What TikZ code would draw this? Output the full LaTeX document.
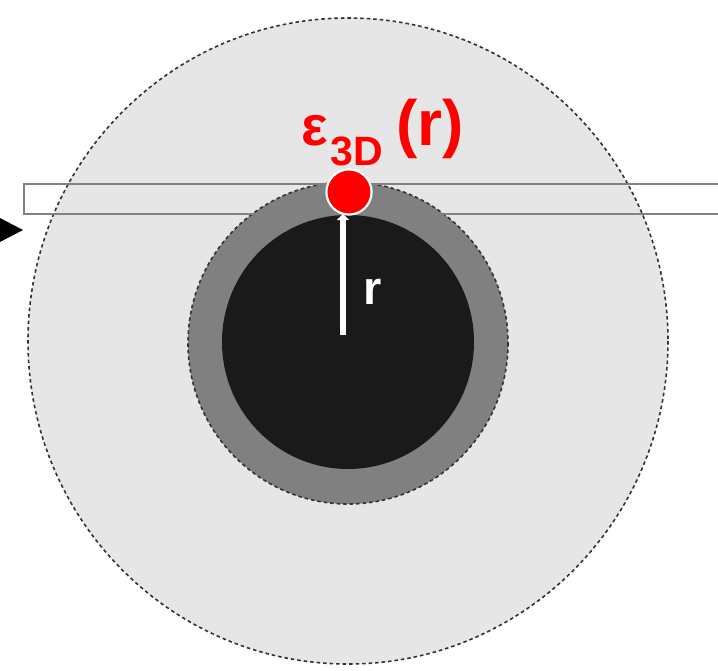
\documentclass[tikz,border=0pt]{standalone}
\usepackage{fontspec}
\setmainfont{Liberation Sans}
\usetikzlibrary{arrows.meta}
\definecolor{outergray}{RGB}{230,230,230}
\definecolor{ringgray}{RGB}{128,128,128}
\definecolor{coreblack}{RGB}{26,26,26}
\definecolor{edgegray}{RGB}{50,50,50}
\definecolor{boxgray}{RGB}{130,130,130}
\tikzset{
  dashedge/.style={draw=edgegray, line width=1.6pt, dash pattern=on 3.5pt off 3pt},
  radius line/.style={white, line width=6pt},
  lbl/.style={inner sep=0pt, font=\bfseries},
}
\begin{document}
\begin{tikzpicture}[x=1pt,y=-1pt]
\useasboundingbox (0,0) rectangle (718,670);
\fill[white] (0,0) rectangle (718,670);
% outer region
\filldraw[fill=outergray, dashedge] (348,341) ellipse [x radius=320, y radius=323];
% gray ring
\filldraw[fill=ringgray, dashedge] (348,343) ellipse [x radius=160, y radius=161];
% black core
\fill[coreblack] (348,342) ellipse [x radius=126, y radius=127];
% slab rectangle
\draw[boxgray, line width=1.6pt] (24,184) rectangle (722,214);
% black arrowhead at left
\fill[black] (-2,217) -- (23,230) -- (-2,243) -- cycle;
% centre and radius
\coordinate (c) at (343,335);
\node[circle, fill=red, draw=white, line width=2pt, minimum size=45pt, inner sep=0pt] (dot) at (349,192) {};
\draw[radius line, -{Triangle[width=12pt,length=6pt]}] (c) -- (343,214);
\node[circle, fill=red, draw=white, line width=2pt, minimum size=45pt, inner sep=0pt] at (dot.center) {};
\node[lbl, text=white, anchor=base west] (rlabel) at (363,304) {\fontsize{47}{47}\selectfont r};
\node[lbl, text=red, anchor=base west] (eps) at (301,145) {\fontsize{56}{56}\selectfont ε\hspace{3pt}\raisebox{-20pt}{\fontsize{41}{41}\selectfont 3D}\hspace{13pt}\fontsize{64}{64}\selectfont (r)};
\end{tikzpicture}
\end{document}
